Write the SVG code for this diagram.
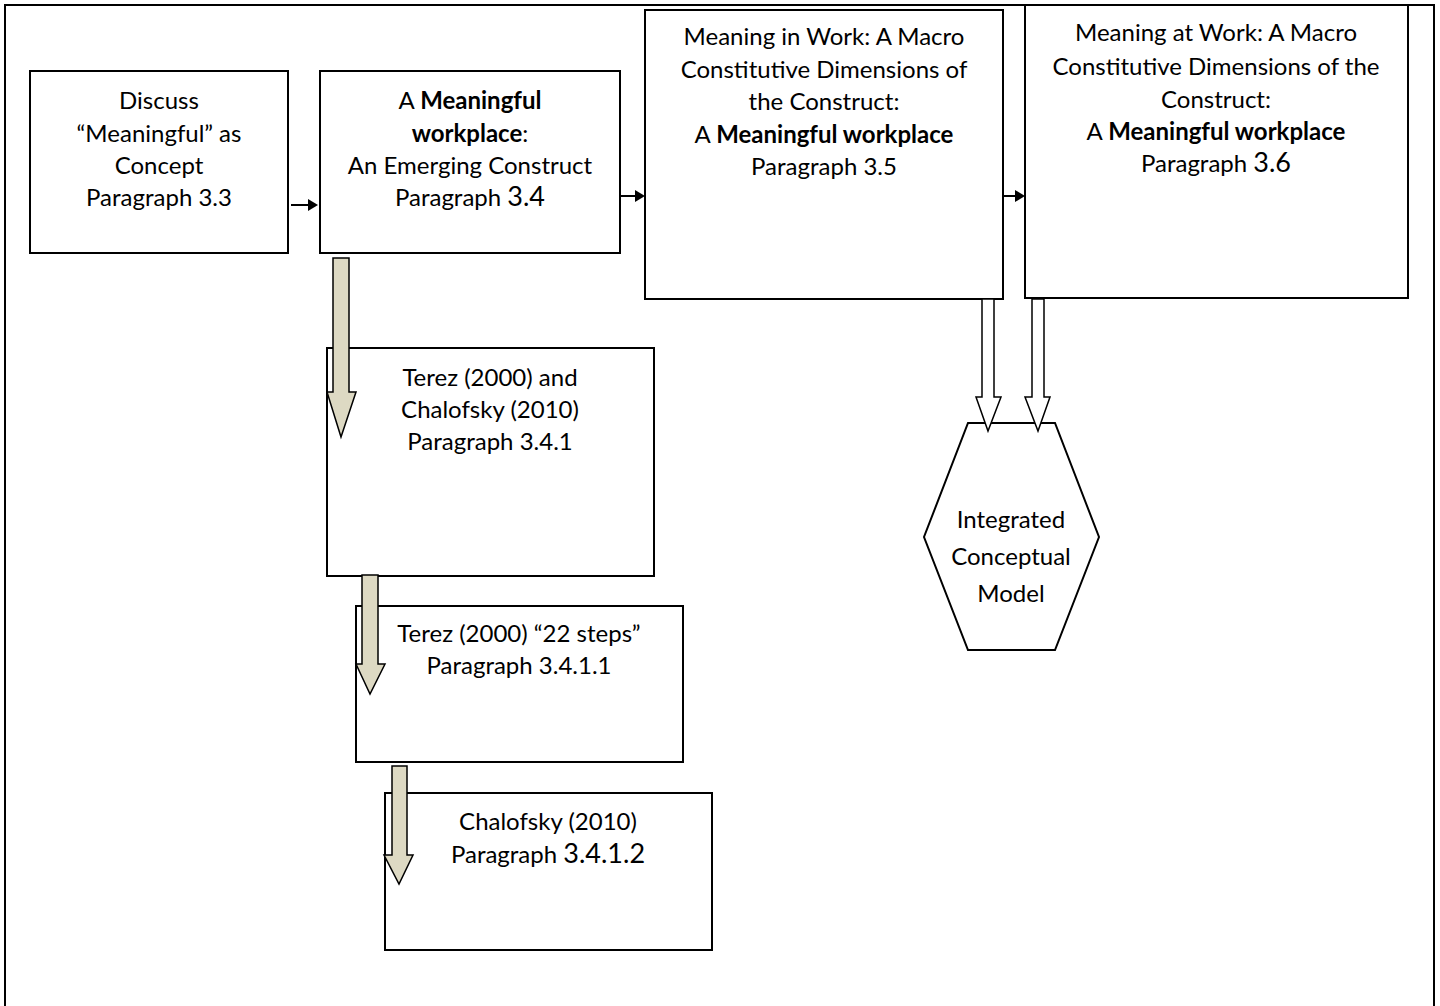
<svg xmlns="http://www.w3.org/2000/svg" width="1440" height="1006" viewBox="0 0 1440 1006">
<style>
.box{fill:#fff;stroke:#000;stroke-width:2}
.frame{fill:none;stroke:#000;stroke-width:2}
.t{font-family:Lato,"Open Sans",sans-serif;font-size:24px;fill:#000;text-anchor:middle}
.b{font-weight:bold}
.big{font-size:27px}
.tan{fill:#ddd9c3;stroke:#000;stroke-width:1.5;stroke-linejoin:miter}
.hollow{fill:#fff;stroke:#000;stroke-width:1.5}
.ln{stroke:#000;stroke-width:2}
</style>
<rect width="1440" height="1006" fill="#fff"/>
<path class="frame" d="M5,1010 V5 H1434 V1010"/>

<g id="n-discuss">
<rect class="box" x="30" y="71" width="258" height="182"/>
<text class="t" x="159" y="109">Discuss</text>
<text class="t" x="159" y="142">“Meaningful” as</text>
<text class="t" x="159" y="174">Concept</text>
<text class="t" x="159" y="206">Paragraph 3.3</text>
</g>

<g id="n-workplace">
<rect class="box" x="320" y="71" width="300" height="182"/>
<text class="t" x="470" y="109">A <tspan class="b">Meaningful</tspan></text>
<text class="t" x="470" y="142"><tspan class="b">workplace</tspan>:</text>
<text class="t" x="470" y="174">An Emerging Construct</text>
<text class="t" x="470" y="206">Paragraph <tspan class="big">3.4</tspan></text>
</g>

<g id="n-in-work">
<rect class="box" x="645" y="10" width="358" height="289"/>
<text class="t" x="824" y="45">Meaning in Work: A Macro</text>
<text class="t" x="824" y="78">Constitutive Dimensions of</text>
<text class="t" x="824" y="110">the Construct:</text>
<text class="t" x="824" y="143">A <tspan class="b">Meaningful workplace</tspan></text>
<text class="t" x="824" y="175">Paragraph 3.5</text>
</g>

<g id="n-at-work">
<rect class="box" x="1025" y="5" width="383" height="293"/>
<text class="t" x="1216" y="41">Meaning at Work: A Macro</text>
<text class="t" x="1216" y="75">Constitutive Dimensions of the</text>
<text class="t" x="1216" y="108">Construct:</text>
<text class="t" x="1216" y="140">A <tspan class="b">Meaningful workplace</tspan></text>
<text class="t" x="1216" y="172">Paragraph <tspan class="big">3.6</tspan></text>
</g>

<g id="n-terez-chalofsky">
<rect class="box" x="327" y="348" width="327" height="228"/>
<text class="t" x="490" y="386">Terez (2000) and</text>
<text class="t" x="490" y="418">Chalofsky (2010)</text>
<text class="t" x="490" y="450">Paragraph 3.4.1</text>
</g>

<g id="n-terez">
<rect class="box" x="356" y="606" width="327" height="156"/>
<text class="t" x="519" y="642">Terez (2000) “22 steps”</text>
<text class="t" x="519" y="674">Paragraph 3.4.1.1</text>
</g>

<g id="n-chalofsky">
<rect class="box" x="385" y="793" width="327" height="157"/>
<text class="t" x="548" y="830">Chalofsky (2010)</text>
<text class="t" x="548" y="863">Paragraph <tspan class="big">3.4.1.2</tspan></text>
</g>

<g id="n-model">
<polygon class="box" points="968,423 1055,423 1099,537 1055,650 968,650 924,537"/>
<text class="t" x="1011" y="528">Integrated</text>
<text class="t" x="1011" y="565">Conceptual</text>
<text class="t" x="1011" y="602">Model</text>
</g>

<g id="connectors">
<line class="ln" x1="291" y1="205" x2="309" y2="205"/>
<polygon points="308,199 318,205 308,211" fill="#000"/>
<line class="ln" x1="621" y1="196" x2="636" y2="196"/>
<polygon points="635,190 645,196 635,202" fill="#000"/>
<line class="ln" x1="1003" y1="196" x2="1016" y2="196"/>
<polygon points="1015,190 1025,196 1015,202" fill="#000"/>

<polygon class="tan" points="333,258 349,258 349,392 356,392 341,437 327,392 333,392"/>
<polygon class="tan" points="362,575 378,575 378,664 385,664 370,694 356,664 362,664"/>
<polygon class="tan" points="392,766 407,766 407,855 413,855 399,884 384,855 392,855"/>

<polygon class="hollow" points="982,299 994,299 994,397 1001,397 988,431 976,397 982,397"/>
<polygon class="hollow" points="1032,299 1044,299 1044,397 1050,397 1038,431 1025,397 1032,397"/>
</g>
</svg>
